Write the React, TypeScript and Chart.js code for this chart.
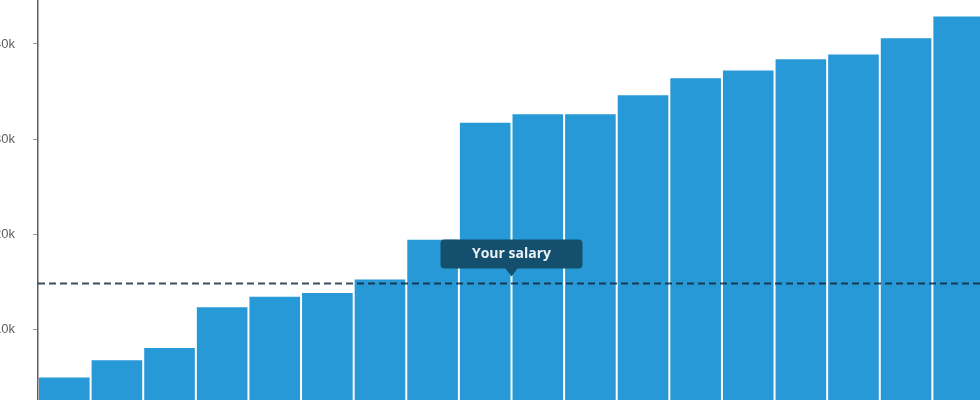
import React, { useEffect, useRef } from "react";
import { Chart, registerables } from "chart.js";

Chart.register(...registerables);

// Salary bands (in thousands), sorted ascending
const categories = ["1", "2", "3", "4", "5", "6", "7", "8", "9", "10", "11", "12", "13", "14", "15", "16", "17", "18"];
const salaries = [4.9, 6.7, 8.0, 12.3, 13.4, 13.8, 15.2, 19.4, 31.7, 32.6, 32.6, 34.6, 36.4, 37.2, 38.4, 38.9, 40.6, 42.9];
const yourSalary = 14.8;
const yourSalaryLabel = "Your salary";
const yourSalaryPosition = 8.5; // between categories 9 and 10
const yTickStep = 10;
const yMin = 0;
const yMax = 50;

const salaryPlugin = {
  id: "salaryLine",
  afterDatasetsDraw(chart: any) {
    const { ctx, chartArea, scales } = chart;
    const y = scales.y.getPixelForValue(yourSalary);
    ctx.save();
    ctx.beginPath();
    ctx.setLineDash([7, 4]);
    ctx.lineWidth = 2;
    ctx.strokeStyle = "rgba(18,38,58,0.82)";
    ctx.moveTo(chartArea.left, y);
    ctx.lineTo(chartArea.right, y);
    ctx.stroke();
    ctx.restore();
  },
  afterDraw(chart: any) {
    const { ctx, scales } = chart;
    const y = scales.y.getPixelForValue(yourSalary);
    const x = scales.x.getPixelForValue(yourSalaryPosition);
    const w = 142;
    const h = 29;
    const r = 4;
    const left = x - w / 2;
    const top = y - 44;
    ctx.save();
    ctx.fillStyle = "#154f6e";
    ctx.beginPath();
    ctx.moveTo(left + r, top);
    ctx.lineTo(left + w - r, top);
    ctx.quadraticCurveTo(left + w, top, left + w, top + r);
    ctx.lineTo(left + w, top + h - r);
    ctx.quadraticCurveTo(left + w, top + h, left + w - r, top + h);
    ctx.lineTo(x + 6, top + h);
    ctx.lineTo(x, top + h + 8);
    ctx.lineTo(x - 6, top + h);
    ctx.lineTo(left + r, top + h);
    ctx.quadraticCurveTo(left, top + h, left, top + h - r);
    ctx.lineTo(left, top + r);
    ctx.quadraticCurveTo(left, top, left + r, top);
    ctx.closePath();
    ctx.fill();
    ctx.fillStyle = "#e9f1f5";
    ctx.font = "bold 14px 'Open Sans', 'DejaVu Sans', sans-serif";
    ctx.textAlign = "center";
    ctx.textBaseline = "middle";
    ctx.fillText(yourSalaryLabel, x, top + h / 2 + 0.5);
    ctx.restore();
  },
};

export default function App() {
  const canvasRef = useRef<HTMLCanvasElement | null>(null);

  useEffect(() => {
    document.documentElement.style.overflow = "hidden";
    document.body.style.overflow = "hidden";
    document.body.style.margin = "0";
    const canvas = canvasRef.current;
    if (!canvas) return;
    const chart = new Chart(canvas, {
      type: "bar",
      data: {
        labels: categories,
        datasets: [
          {
            data: salaries,
            backgroundColor: "#2799d6",
            borderWidth: 0,
            barPercentage: 0.962,
            categoryPercentage: 1,
          },
        ],
      },
      options: {
        responsive: false,
        animation: false,
        layout: { padding: 0 },
        plugins: {
          legend: { display: false },
          tooltip: { enabled: false },
          title: { display: false },
        },
        scales: {
          x: { display: false, offset: true },
          y: {
            min: yMin,
            max: yMax,
            border: { display: true, color: "#5a5f63", width: 1.5 },
            grid: { drawOnChartArea: false, drawTicks: true, tickLength: 5, color: "#9a9a9a" },
            ticks: {
              stepSize: yTickStep,
              padding: 18,
              color: "#5f5f5f",
              font: { family: "'Liberation Sans', Arial, sans-serif", size: 13 },
              callback: (v: any) => (v === 0 ? "" : v + "k"),
            },
            afterFit: (scale: any) => {
              scale.width = 98;
              scale.paddingTop = 0;
              scale.paddingBottom = 0;
            },
          },
        },
      },
      plugins: [salaryPlugin],
    });
    return () => chart.destroy();
  }, []);

  return (
    <div style={{ position: "fixed", left: -60, top: -51, width: 1045, height: 475, background: "#fff" }}>
      <canvas ref={canvasRef} width={1045} height={475} style={{ display: "block" }} />
    </div>
  );
}
